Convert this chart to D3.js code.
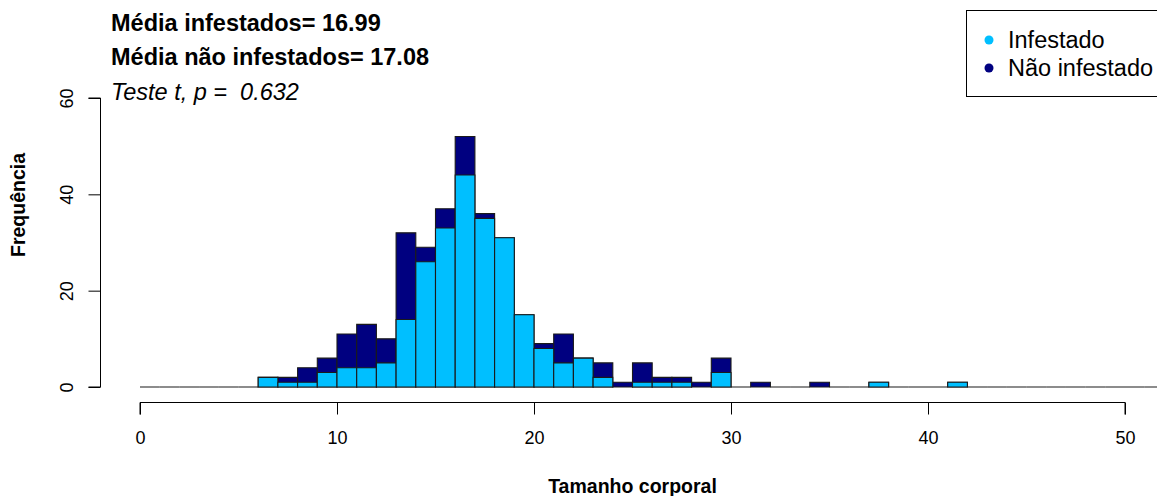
<!DOCTYPE html>
<html>
<head>
<meta charset="utf-8">
<script src="https://cdn.jsdelivr.net/npm/d3@7/dist/d3.min.js"></script>
<style>
  html, body { margin: 0; padding: 0; background: #fff; }
  svg { display: block; font-family: "Liberation Sans", Arial, sans-serif; }
  text { white-space: pre; }
</style>
</head>
<body>
<svg id="chart" width="1157" height="496"></svg>
<script>
// Histogram of body size: 1-unit bins starting at 0
const binStart = 0;
const binWidth = 1;
// counts per bin (bin i covers [i, i+1))
const infestado = [0,0,0,0,0,0, 2,1,1,3,4,4,5,14,26,33,44,35,31,15,8,5,6,2,0,1,1,1,0,3,0,0,0,0,0,0,0,1,0,0,0,1,0,0,0,0,0,0,0,0,0,0,0];
const naoInfestado = [0,0,0,0,0,0, 0,1,3,3,7,9,5,18,3,4,8,1,0,0,1,6,0,3,1,4,1,1,1,3,0,1,0,0,1,0,0,0,0,0,0,0,0,0,0,0,0,0,0,0,0,0,0];

const xTicks = [0, 10, 20, 30, 40, 50];
const yTicks = [0, 20, 40, 60];

const seriesNames = ["Infestado", "Não infestado"];
const seriesColors = ["#00BFFF", "#000080"];

const statLines = [
  { text: "Média infestados= 16.99", weight: "bold", style: "normal" },
  { text: "Média não infestados= 17.08", weight: "bold", style: "normal" },
  { text: "Teste t, p =  0.632", weight: "normal", style: "italic" }
];

const bins = infestado.map((v, i) => ({
  x0: binStart + i * binWidth,
  x1: binStart + (i + 1) * binWidth,
  inf: v,
  total: v + naoInfestado[i]
}));

const svg = d3.select("#chart");

const x = d3.scaleLinear().domain([0, 50]).range([140, 1125]);
const y = d3.scaleLinear().domain([0, 60]).range([387, 98]);

// bars as closed paths so empty bins still show as a line on the baseline
const barPath = key => d => {
  const x0 = x(d.x0), x1 = x(d.x1), y0 = y(0), y1 = y(d[key]);
  return `M${x0},${y0}H${x1}V${y1}H${x0}Z`;
};

// total bars (dark), then the infested part on top of them
svg.append("g").selectAll("path").data(bins).join("path")
  .attr("d", barPath("total"))
  .attr("fill", seriesColors[1])
  .attr("stroke", "#1a1a1a")
  .attr("stroke-width", 1.1);

svg.append("g").selectAll("path").data(bins.filter(d => d.inf > 0)).join("path")
  .attr("d", barPath("inf"))
  .attr("fill", seriesColors[0])
  .attr("stroke", "#1a1a1a")
  .attr("stroke-width", 1.1);

// x axis, offset below the bars
const xAxis = d3.axisBottom(x).tickValues(xTicks).tickSize(12).tickPadding(17).tickFormat(d3.format("d"));
const gx = svg.append("g").attr("transform", "translate(0,402.5)").call(xAxis);
gx.select(".domain").attr("d", `M${x(0)},12V0H${x(50)}V12`).attr("stroke", "#000");
gx.selectAll(".tick line").attr("stroke", "#000");
gx.selectAll(".tick text").attr("font-size", 18).attr("fill", "#000")
  .attr("font-family", "Liberation Sans, Arial, sans-serif");

// y axis, offset to the left
const yAxis = d3.axisLeft(y).tickValues(yTicks).tickSize(12).tickFormat(d3.format("d"));
const gy = svg.append("g").attr("transform", "translate(100.5,0)").call(yAxis);
gy.select(".domain").attr("d", `M-12,${y(0)}H0V${y(60)}H-12`).attr("stroke", "#000");
gy.selectAll(".tick line").attr("stroke", "#000");
gy.selectAll(".tick text")
  .attr("font-size", 18).attr("fill", "#000")
  .attr("font-family", "Liberation Sans, Arial, sans-serif")
  .attr("x", null).attr("dy", null)
  .attr("text-anchor", "middle")
  .attr("dominant-baseline", "central")
  .attr("transform", "translate(-34,0) rotate(-90)");

// axis titles
svg.append("text")
  .attr("x", (x(0) + x(50)) / 2).attr("y", 493)
  .attr("text-anchor", "middle")
  .attr("font-size", 19.5).attr("font-weight", "bold")
  .text("Tamanho corporal");

svg.append("text")
  .attr("transform", "translate(25,205) rotate(-90)")
  .attr("text-anchor", "middle")
  .attr("font-size", 19.5).attr("font-weight", "bold")
  .text("Frequência");

// summary statistics
svg.append("g").selectAll("text").data(statLines).join("text")
  .attr("x", 111)
  .attr("y", (d, i) => 30.5 + i * 34.5)
  .attr("font-size", 23.5)
  .attr("font-weight", d => d.weight)
  .attr("font-style", d => d.style)
  .attr("fill", "#000")
  .text(d => d.text);

// legend
const lg = svg.append("g");
lg.append("rect")
  .attr("x", 966.5).attr("y", 10.5)
  .attr("width", 260).attr("height", 86)
  .attr("fill", "#fff").attr("stroke", "#000");
seriesNames.forEach((name, i) => {
  lg.append("circle")
    .attr("cx", 989).attr("cy", 40 + i * 28).attr("r", 4.5)
    .attr("fill", seriesColors[i]);
  lg.append("text")
    .attr("x", 1008).attr("y", 40 + i * 28)
    .attr("dominant-baseline", "central")
    .attr("font-size", 23.5).attr("fill", "#000")
    .text(name);
});
</script>
</body>
</html>
